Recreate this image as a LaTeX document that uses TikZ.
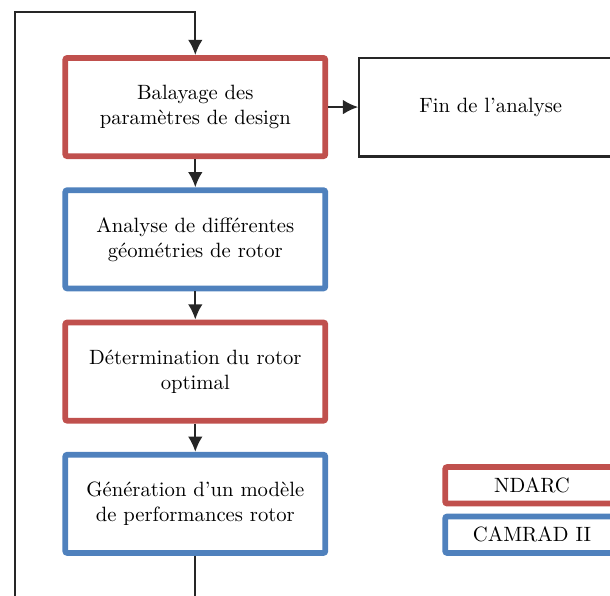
\documentclass[tikz,border=0pt]{standalone}
\usetikzlibrary{arrows.meta,positioning,calc}
\definecolor{ndarcred}{RGB}{192,80,77}
\definecolor{camradblue}{RGB}{79,129,189}
\tikzset{
    flowbox/.style={draw, rounded corners=1pt, align=center, line width=2.8pt,
        minimum width=4.42cm, minimum height=1.67cm, fill=white},
    ndarcbox/.style={flowbox, draw=ndarcred},
    camradbox/.style={flowbox, draw=camradblue},
    endbox/.style={draw=black!85, line width=1pt, align=center,
        minimum width=4.47cm, minimum height=1.68cm},
    legendbox/.style={flowbox, minimum width=2.95cm, minimum height=0.62cm},
    flowarrow/.style={-{Latex[length=2.6mm, width=2.5mm]}, line width=1pt, draw=black!85},
    flowline/.style={line width=1pt, draw=black!85}
}

\begin{document}
\begin{tikzpicture}[node distance=0.48cm]
\path[use as bounding box, clip] (0,0) rectangle (10.37,-10.13);
\node[ndarcbox] (sweep) at (3.32,-1.82) {Balayage des\\paramètres de design};
\node[camradbox, below=of sweep] (geom) {Analyse de différentes\\géométries de rotor};
\node[ndarcbox, below=of geom] (optim) {Détermination du rotor\\optimal};
\node[camradbox, below=of optim] (perfmodel) {Génération d'un modèle\\de performances rotor};
\node[endbox, right=0.51cm of sweep] (finish) {Fin de l'analyse};
% legende
\node[legendbox, draw=ndarcred, anchor=south west] (legndarc) at ($(perfmodel.south east)+(1.94,0.84)$) {NDARC};
\node[legendbox, draw=camradblue, anchor=south west] (legcamrad) at ($(perfmodel.south east)+(1.94,0)$) {CAMRAD II};
% boucle
\coordinate (loopbottom) at ($(perfmodel.south)+(0,-1.5)$);
\coordinate (loopcorner) at (0.255,-0.204);
\draw[flowarrow] (sweep) -- (geom);
\draw[flowarrow] (geom) -- (optim);
\draw[flowarrow] (optim) -- (perfmodel);
\draw[flowarrow] (sweep) -- (finish);
\draw[flowline] (perfmodel.south) -- (loopbottom);
\draw[flowarrow] (loopbottom) -| (loopcorner) -| (sweep.north);
\end{tikzpicture}
\end{document}
